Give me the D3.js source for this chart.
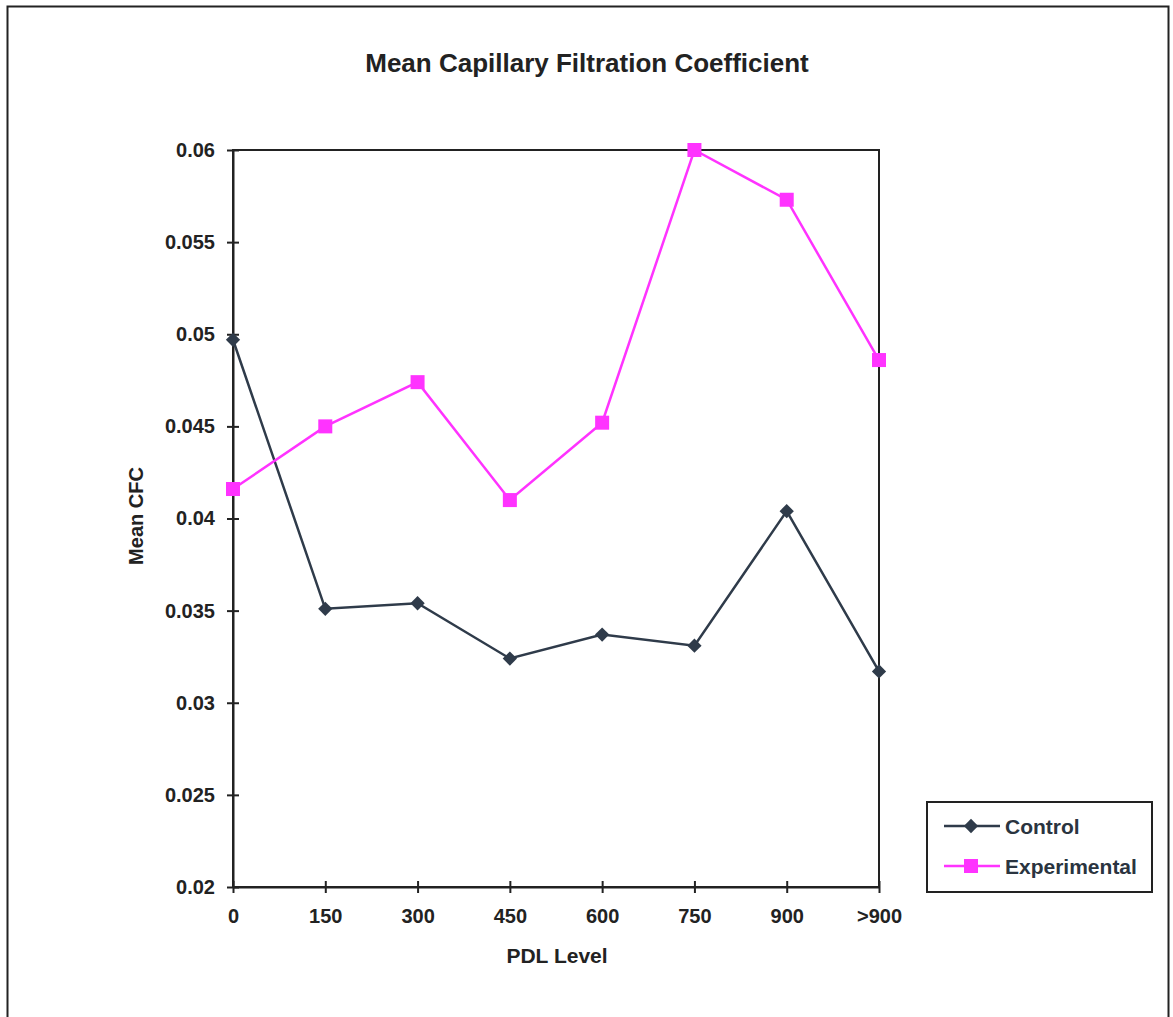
<!DOCTYPE html>
<html>
<head>
<meta charset="utf-8">
<script src="https://cdn.jsdelivr.net/npm/d3@7"></script>
<style>
  body { margin: 0; background: #fff; }
  svg { display: block; font-family: "Liberation Sans", Arial, sans-serif; font-weight: bold; }
</style>
</head>
<body>
<svg id="chart" width="1173" height="1017"></svg>
<script>
// chart data
const levels = ["0", "150", "300", "450", "600", "750", "900", ">900"];
const control = [0.0497, 0.0351, 0.0354, 0.0324, 0.0337, 0.0331, 0.0404, 0.0317];
const experimental = [0.0416, 0.0450, 0.0474, 0.0410, 0.0452, 0.0600, 0.0573, 0.0486];
const yTicks = [0.02, 0.025, 0.03, 0.035, 0.04, 0.045, 0.05, 0.055, 0.06];

const svg = d3.select("#chart");
const ink = "#222";

// outer frame (bottom runs off the page)
svg.append("rect")
  .attr("x", 7.5).attr("y", 6.5)
  .attr("width", 1161).attr("height", 1030)
  .attr("fill", "none").attr("stroke", ink).attr("stroke-width", 2);

const plotLeft = 233, plotRight = 879, plotTop = 150, plotBottom = 887;

const x = d3.scalePoint().domain(levels).range([plotLeft, plotRight]);
const y = d3.scaleLinear().domain([0.02, 0.06]).range([plotBottom, plotTop]);

// plot box
svg.append("rect")
  .attr("x", plotLeft).attr("y", plotTop)
  .attr("width", plotRight - plotLeft).attr("height", plotBottom - plotTop)
  .attr("fill", "none").attr("stroke", ink).attr("stroke-width", 2);

// y axis
const yAxis = svg.append("g")
  .attr("transform", `translate(${plotLeft},0)`)
  .call(d3.axisLeft(y).tickValues(yTicks).tickFormat(d => String(+d.toFixed(3))).tickSizeInner(6).tickSizeOuter(0).tickPadding(8));
yAxis.select(".domain").attr("stroke", ink).attr("stroke-width", 2);
yAxis.selectAll(".tick line").attr("stroke", ink).attr("stroke-width", 2).attr("x2", 6).attr("x1", -6);
yAxis.selectAll(".tick text").attr("fill", ink).attr("font-size", 20).attr("font-weight", "bold").attr("x", -18);

// x axis
const xAxis = svg.append("g")
  .attr("transform", `translate(0,${plotBottom})`)
  .call(d3.axisBottom(x).tickSizeInner(6).tickSizeOuter(0).tickPadding(16));
xAxis.select(".domain").attr("stroke", ink).attr("stroke-width", 2);
xAxis.selectAll(".tick line").attr("stroke", ink).attr("stroke-width", 2).attr("y1", -6).attr("y2", 6);
xAxis.selectAll(".tick text").attr("fill", ink).attr("font-size", 20).attr("font-weight", "bold")
  .attr("dy", null).attr("y", 36);

// titles
svg.append("text").attr("x", 587).attr("y", 72).attr("text-anchor", "middle")
  .attr("font-size", 26).attr("fill", ink).text("Mean Capillary Filtration Coefficient");
svg.append("text").attr("x", 557).attr("y", 963).attr("text-anchor", "middle")
  .attr("font-size", 21).attr("fill", ink).text("PDL Level");
svg.append("text").attr("transform", "translate(143,516) rotate(-90)").attr("text-anchor", "middle")
  .attr("font-size", 20).attr("fill", ink).text("Mean CFC");

const ctrlColor = "#2f3b4a", expColor = "#ff33ff";
const line = d3.line().x((d, i) => x(levels[i])).y(d => y(d));

svg.append("path").datum(control).attr("d", line)
  .attr("fill", "none").attr("stroke", ctrlColor).attr("stroke-width", 2.5);
svg.append("path").datum(experimental).attr("d", line)
  .attr("fill", "none").attr("stroke", expColor).attr("stroke-width", 2.5);

const diamond = d3.symbol().type(d3.symbolDiamond2).size(130);
svg.append("g").selectAll("path").data(control).join("path")
  .attr("transform", (d, i) => `translate(${x(levels[i])},${y(d)})`)
  .attr("d", diamond).attr("fill", ctrlColor);

svg.append("g").selectAll("rect").data(experimental).join("rect")
  .attr("x", (d, i) => x(levels[i]) - 7).attr("y", d => y(d) - 7)
  .attr("width", 14).attr("height", 14).attr("fill", expColor);

// legend
const legend = svg.append("g");
legend.append("rect").attr("x", 927).attr("y", 802).attr("width", 225).attr("height", 90)
  .attr("fill", "#fff").attr("stroke", ink).attr("stroke-width", 2);
const series = [
  { name: "Control", color: ctrlColor, shape: "diamond" },
  { name: "Experimental", color: expColor, shape: "square" }
];
series.forEach((s, i) => {
  const ly = 826 + i * 40;
  legend.append("line").attr("x1", 944).attr("x2", 1000).attr("y1", ly).attr("y2", ly)
    .attr("stroke", s.color).attr("stroke-width", 2.5);
  if (s.shape === "diamond") {
    legend.append("path").attr("transform", `translate(971,${ly})`).attr("d", diamond).attr("fill", s.color);
  } else {
    legend.append("rect").attr("x", 964).attr("y", ly - 7).attr("width", 14).attr("height", 14).attr("fill", s.color);
  }
  legend.append("text").attr("x", 1005).attr("y", ly + 8).attr("font-size", 21)
    .attr("fill", "#2a3440").text(s.name);
});
</script>
</body>
</html>
